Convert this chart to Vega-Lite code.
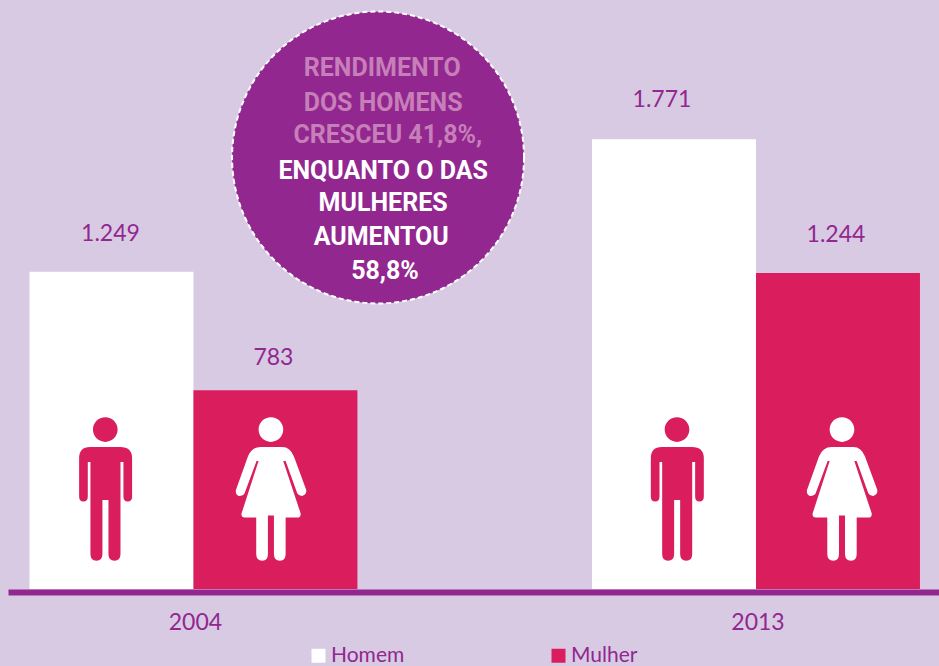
{
"$schema":"https://vega.github.io/schema/vega-lite/v6.json",
"width":939,"height":589,
"autosize":{"type":"none"},
"padding":{"left":0,"top":0,"right":0,"bottom":77},
"background":"#d8cae3",
"config":{"view":{"stroke":null},"font":"Lato"},
"datasets":{
"valores":[
{"ano":"2004","sexo":"Homem","rendimento":1249,"rotulo":"1.249","altura":394},
{"ano":"2004","sexo":"Mulher","rendimento":783,"rotulo":"783","altura":394},
{"ano":"2013","sexo":"Homem","rendimento":1771,"rotulo":"1.771","altura":394},
{"ano":"2013","sexo":"Mulher","rendimento":1244,"rotulo":"1.244","altura":394}
],
"destaque":[{"centro":0.4026,"nivel":1699}],
"linhas":[
{"texto":"RENDIMENTO","grupo":"homens","centro":0.407,"nivel":2051},
{"texto":"DOS HOMENS","grupo":"homens","centro":0.408,"nivel":1913},
{"texto":"CRESCEU 41,8%,","grupo":"homens","centro":0.413,"nivel":1787},
{"texto":"ENQUANTO O DAS","grupo":"mulheres","centro":0.408,"nivel":1646},
{"texto":"MULHERES","grupo":"mulheres","centro":0.408,"nivel":1520},
{"texto":"AUMENTOU","grupo":"mulheres","centro":0.406,"nivel":1386},
{"texto":"58,8%","grupo":"mulheres","centro":0.41,"nivel":1252}
]
},
"resolve":{"scale":{"x":"independent"}},
"layer":[
{
"data":{"name":"valores"},
"encoding":{
"x":{"field":"ano","type":"nominal","scale":{"domain":["2004","2013"],"range":[8,939],"paddingInner":0.417,"paddingOuter":0.036,"align":0.53},
"axis":{"title":null,"labelAngle":0,"ticks":false,"domainColor":"#92278f","domainWidth":6,"offset":3,"labelColor":"#92278f","labelFontSize":23,"labelFont":"Lato","labelPadding":19,"labelOffset":2}},
"xOffset":{"field":"sexo","type":"nominal","scale":{"domain":["Homem","Mulher"],"paddingInner":0,"paddingOuter":0}},
"y":{"field":"rendimento","type":"quantitative","scale":{"domain":[0,2319],"nice":false,"zero":true},"axis":null}
},
"layer":[
{"mark":{"type":"bar"},
"encoding":{
"color":{"field":"sexo","type":"nominal","scale":{"domain":["Homem","Mulher"],"range":["#ffffff","#da1d5c"]},
"legend":{"title":null,"orient":"none","legendX":308,"legendY":645,"direction":"horizontal","columns":2,"columnPadding":143,"symbolType":"square","symbolSize":196,"symbolStrokeWidth":0,"labelColor":"#92278f","labelFontSize":21,"labelFont":"Lato","labelOffset":2,"padding":0}}
}},
{"transform":[{"filter":"datum.rotulo === '1.249'"}],
"mark":{"type":"text","dy":-38,"dx":-1,"fontSize":23,"color":"#92278f","font":"Lato"},
"encoding":{"text":{"field":"rotulo","type":"nominal"}}},
{"transform":[{"filter":"datum.rotulo === '783'"}],
"mark":{"type":"text","dy":-32,"dx":-2,"fontSize":23,"color":"#92278f","font":"Lato"},
"encoding":{"text":{"field":"rotulo","type":"nominal"}}},
{"transform":[{"filter":"datum.rotulo === '1.771'"}],
"mark":{"type":"text","dy":-39,"dx":-12,"fontSize":23,"color":"#92278f","font":"Lato"},
"encoding":{"text":{"field":"rotulo","type":"nominal"}}},
{"transform":[{"filter":"datum.rotulo === '1.244'"}],
"mark":{"type":"text","dy":-38,"dx":-2,"fontSize":23,"color":"#92278f","font":"Lato"},
"encoding":{"text":{"field":"rotulo","type":"nominal"}}},
{"transform":[{"filter":"datum.sexo === 'Homem' && datum.ano === '2004'"}],
"mark":{"type":"point","filled":true,"opacity":1,"color":"#da1d5c","size":20564,"shape":"M-.451,-.428 Q-.451,-.586 -.298,-.586 L.121,-.586 Q.288,-.586 .288,-.428 L.288,.107 Q.288,.177 .227,.177 Q.167,.177 .167,.107 L.167,-.377 L.126,-.377 L.126,.907 Q.126,1 .042,1 Q-.042,1 -.042,.907 L-.042,.153 L-.126,.153 L-.126,.907 Q-.126,1 -.21,1 Q-.293,1 -.293,.907 L-.293,-.377 L-.33,-.377 L-.33,.107 Q-.33,.177 -.391,.177 Q-.451,.177 -.451,.107 Z M-.258,-.828 A.172,.172 0 1,1 .086,-.828 A.172,.172 0 1,1 -.258,-.828 Z"},
"encoding":{"y":{"field":"altura","type":"quantitative"}}},
{"transform":[{"filter":"datum.sexo === 'Homem' && datum.ano === '2013'"}],
"mark":{"type":"point","filled":true,"opacity":1,"color":"#da1d5c","size":20564,"shape":"M-.323,-.428 Q-.323,-.586 -.17,-.586 L.249,-.586 Q.416,-.586 .416,-.428 L.416,.107 Q.416,.177 .355,.177 Q.295,.177 .295,.107 L.295,-.377 L.254,-.377 L.254,.907 Q.254,1 .17,1 Q.086,1 .086,.907 L.086,.153 L.002,.153 L.002,.907 Q.002,1 -.082,1 Q-.165,1 -.165,.907 L-.165,-.377 L-.202,-.377 L-.202,.107 Q-.202,.177 -.263,.177 Q-.323,.177 -.323,.107 Z M-.13,-.828 A.172,.172 0 1,1 .214,-.828 A.172,.172 0 1,1 -.13,-.828 Z"},
"encoding":{"y":{"field":"altura","type":"quantitative"}}},
{"transform":[{"filter":"datum.sexo === 'Mulher' && datum.ano === '2004'"}],
"mark":{"type":"point","filled":true,"opacity":1,"color":"#ffffff","size":20564,"shape":"M-.207,-.586 L.095,-.586 Q.207,-.586 .258,-.451 L.43,.014 Q.437,.08 .374,.098 Q.327,.1 .304,.06 L.142,-.391 L.109,-.391 L.351,.34 Q.357,.4 .307,.4 L.142,.4 L.142,.907 Q.142,1 .063,1 Q-.021,1 -.021,.907 L-.021,.372 L-.105,.372 L-.105,.907 Q-.105,1 -.184,1 Q-.268,1 -.268,.907 L-.268,.4 L-.426,.4 Q-.483,.4 -.472,.34 L-.235,-.391 L-.263,-.391 L-.43,.06 Q-.453,.1 -.51,.098 Q-.563,.08 -.551,.014 L-.384,-.451 Q-.333,-.586 -.207,-.586 Z M-.235,-.828 A.172,.172 0 1,1 .109,-.828 A.172,.172 0 1,1 -.235,-.828 Z"},
"encoding":{"y":{"field":"altura","type":"quantitative"}}},
{"transform":[{"filter":"datum.sexo === 'Mulher' && datum.ano === '2013'"}],
"mark":{"type":"point","filled":true,"opacity":1,"color":"#ffffff","size":20564,"shape":"M-.088,-.586 L.214,-.586 Q.326,-.586 .377,-.451 L.549,.014 Q.556,.08 .493,.098 Q.446,.1 .423,.06 L.261,-.391 L.228,-.391 L.47,.34 Q.476,.4 .426,.4 L.261,.4 L.261,.907 Q.261,1 .182,1 Q.098,1 .098,.907 L.098,.372 L.014,.372 L.014,.907 Q.014,1 -.065,1 Q-.149,1 -.149,.907 L-.149,.4 L-.307,.4 Q-.364,.4 -.353,.34 L-.116,-.391 L-.144,-.391 L-.311,.06 Q-.334,.1 -.391,.098 Q-.444,.08 -.432,.014 L-.265,-.451 Q-.214,-.586 -.088,-.586 Z M-.116,-.828 A.172,.172 0 1,1 .228,-.828 A.172,.172 0 1,1 -.116,-.828 Z"},
"encoding":{"y":{"field":"altura","type":"quantitative"}}}
]
},
{
"data":{"name":"destaque"},
"mark":{"type":"point","shape":"circle","size":85264,"fill":"#92278f","fillOpacity":1,"stroke":"#ffffff","strokeOpacity":1,"strokeWidth":2,"strokeDash":[5,3]},
"encoding":{
"x":{"field":"centro","type":"quantitative","scale":{"domain":[0,1],"nice":false},"axis":null},
"y":{"field":"nivel","type":"quantitative"}
}
},
{
"data":{"name":"linhas"},
"mark":{"type":"text","font":"Roboto","fontWeight":"bold","fontSize":25},
"encoding":{
"x":{"field":"centro","type":"quantitative","scale":{"domain":[0,1],"nice":false},"axis":null},
"y":{"field":"nivel","type":"quantitative"},
"text":{"field":"texto","type":"nominal"},
"fill":{"field":"grupo","type":"nominal","scale":{"domain":["homens","mulheres"],"range":["#c67fb8","#ffffff"]},"legend":null}
}
}
]
}
